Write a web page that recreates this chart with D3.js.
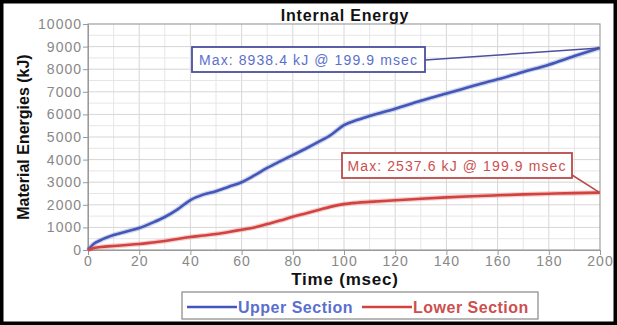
<!DOCTYPE html>
<html>
<head>
<meta charset="utf-8">
<script src="https://cdn.jsdelivr.net/npm/d3@7"></script>
<style>
  body { margin: 0; background: #fff; }
  svg { display: block; font-family: Arial, "Liberation Sans", sans-serif; }
</style>
</head>
<body>
<div id="chart"></div>
<script>
// time samples (msec)
const timeMs = [0, 2, 5, 10, 15, 20, 25, 30, 35, 40, 45, 50, 55, 60, 65, 70, 75, 80, 85, 90, 95, 100, 105, 110, 120, 130, 140, 150, 160, 170, 180, 190, 199.9];
// material energies (kJ)
const upperSection = [0, 250, 440, 660, 820, 970, 1200, 1460, 1800, 2210, 2450, 2600, 2800, 3000, 3300, 3630, 3920, 4200, 4480, 4780, 5100, 5530, 5750, 5930, 6250, 6600, 6920, 7250, 7550, 7880, 8200, 8580, 8938.4];
const lowerSection = [0, 80, 130, 180, 220, 265, 330, 400, 490, 575, 640, 710, 800, 900, 1000, 1150, 1300, 1470, 1620, 1770, 1920, 2030, 2090, 2130, 2200, 2270, 2330, 2380, 2420, 2460, 2490, 2515, 2537.6];
const seriesNames = ["Upper Section", "Lower Section"];
const xTicks = [0, 20, 40, 60, 80, 100, 120, 140, 160, 180, 200];
const yTicks = [0, 1000, 2000, 3000, 4000, 5000, 6000, 7000, 8000, 9000, 10000];
const maxLabels = ["Max: 8938.4 kJ @ 199.9 msec", "Max: 2537.6 kJ @ 199.9 msec"];

const width = 617, height = 325;
const margin = { top: 24, right: 17, bottom: 75, left: 88 };

const colors = ["#4257b8", "#d2433f"];
const textColors = ["#5b6fce", "#cc4f4f"];
const boxColors = ["#4c4f9e", "#b84a4a"];

const svg = d3.select("#chart").append("svg")
    .attr("width", width)
    .attr("height", height);

const x = d3.scaleLinear().domain([0, 200]).range([margin.left, width - margin.right]);
const y = d3.scaleLinear().domain([0, 10000]).range([height - margin.bottom, margin.top]);

// background
svg.append("rect").attr("width", width).attr("height", height).attr("fill", "#fff");

// grid (every 10 msec, every 500 kJ)
const grid = svg.append("g");
grid.selectAll(".vg")
    .data(d3.range(10, 200, 10))
    .join("line")
    .attr("x1", d => x(d)).attr("x2", d => x(d))
    .attr("y1", y(0)).attr("y2", y(10000))
    .attr("stroke", d => d % 20 === 0 ? "#d6d6d6" : "#e6e6e6")
    .attr("stroke-width", 1);
grid.selectAll(".hg")
    .data(d3.range(500, 10000, 500))
    .join("line")
    .attr("x1", x(0)).attr("x2", x(200))
    .attr("y1", d => y(d)).attr("y2", d => y(d))
    .attr("stroke", d => d % 1000 === 0 ? "#d6d6d6" : "#e6e6e6")
    .attr("stroke-width", 1);

// frame
svg.append("rect")
    .attr("x", x(0)).attr("y", y(10000))
    .attr("width", x(200) - x(0)).attr("height", y(0) - y(10000))
    .attr("fill", "none").attr("stroke", "#a0a0a0").attr("stroke-width", 1.2);

// axes
const xAxis = svg.append("g")
    .attr("transform", `translate(0,${y(0)})`)
    .call(d3.axisBottom(x).tickValues(xTicks).tickSize(5).tickPadding(1).tickFormat(d3.format("d")));
const yAxis = svg.append("g")
    .attr("transform", `translate(${x(0)},0)`)
    .call(d3.axisLeft(y).tickValues(yTicks).tickSize(5).tickPadding(1).tickFormat(d3.format("d")));
[xAxis, yAxis].forEach(a => {
    a.select(".domain").attr("stroke", "#999");
    a.selectAll(".tick line").attr("stroke", "#999");
    a.selectAll(".tick text")
        .attr("fill", "#888")
        .style("font-size", "14px")
        .style("letter-spacing", "1px")
        .style("font-family", "Arial, 'Liberation Sans', sans-serif");
});

// lines
const series = [upperSection, lowerSection];
const line = d3.line()
    .x((d, i) => x(timeMs[i]))
    .y(d => y(d))
    .curve(d3.curveMonotoneX);

series.forEach((vals, k) => {
    svg.append("path")
        .datum(vals)
        .attr("fill", "none")
        .attr("stroke", colors[k])
        .attr("stroke-opacity", 0.25)
        .attr("stroke-width", 5)
        .attr("d", line);
    svg.append("path")
        .datum(vals)
        .attr("fill", "none")
        .attr("stroke", colors[k])
        .attr("stroke-width", 2.6)
        .attr("stroke-linejoin", "round")
        .attr("d", line);
});

// max annotations
const boxes = [
    { x: 192, y: 47, w: 233, h: 25, ax: 425, ay: 60 },
    { x: 342, y: 153, w: 230, h: 25, ax: 572, ay: 175 }
];
series.forEach((vals, k) => {
    const b = boxes[k];
    const last = vals.length - 1;
    svg.append("line")
        .attr("x1", b.ax).attr("y1", b.ay)
        .attr("x2", x(timeMs[last])).attr("y2", y(vals[last]))
        .attr("stroke", boxColors[k]).attr("stroke-width", 1.5);
    svg.append("rect")
        .attr("x", b.x).attr("y", b.y).attr("width", b.w).attr("height", b.h)
        .attr("fill", "#fff").attr("stroke", boxColors[k]).attr("stroke-width", 1.8);
    svg.append("text")
        .attr("x", b.x + b.w / 2).attr("y", b.y + b.h / 2 + 5)
        .attr("text-anchor", "middle")
        .attr("fill", textColors[k])
        .style("font-size", "14px")
        .style("letter-spacing", "1.1px")
        .text(maxLabels[k]);
});

// title and axis labels
svg.append("text")
    .attr("x", 345).attr("y", 21)
    .attr("text-anchor", "middle")
    .style("font-size", "16px").style("font-weight", "bold")
    .style("letter-spacing", "0.8px")
    .attr("fill", "#111")
    .text("Internal Energy");

svg.append("text")
    .attr("x", 345).attr("y", 285)
    .attr("text-anchor", "middle")
    .style("font-size", "17px").style("font-weight", "bold")
    .style("letter-spacing", "0.8px")
    .attr("fill", "#111")
    .text("Time (msec)");

svg.append("text")
    .attr("transform", "translate(29,137) rotate(-90)")
    .attr("text-anchor", "middle")
    .style("font-size", "16px").style("font-weight", "bold")
    .attr("fill", "#111")
    .text("Material Energies (kJ)");

// legend
const legend = svg.append("g");
legend.append("rect")
    .attr("x", 182).attr("y", 292).attr("width", 356).attr("height", 27)
    .attr("fill", "#fff").attr("stroke", "#888").attr("stroke-width", 1.2);
const legendX = [187, 362];
seriesNames.forEach((name, k) => {
    legend.append("line")
        .attr("x1", legendX[k]).attr("x2", legendX[k] + 50)
        .attr("y1", 307).attr("y2", 307)
        .attr("stroke", colors[k]).attr("stroke-width", 2.5);
    legend.append("text")
        .attr("x", legendX[k] + 51).attr("y", 312.5)
        .attr("fill", textColors[k])
        .style("font-size", "16px").style("font-weight", "bold")
        .style("letter-spacing", "0.5px")
        .text(name);
});

// outer border
svg.append("rect")
    .attr("x", 1.75).attr("y", 1.75)
    .attr("width", width - 3.5).attr("height", height - 3.5)
    .attr("fill", "none").attr("stroke", "#000").attr("stroke-width", 3.5);
</script>
</body>
</html>
